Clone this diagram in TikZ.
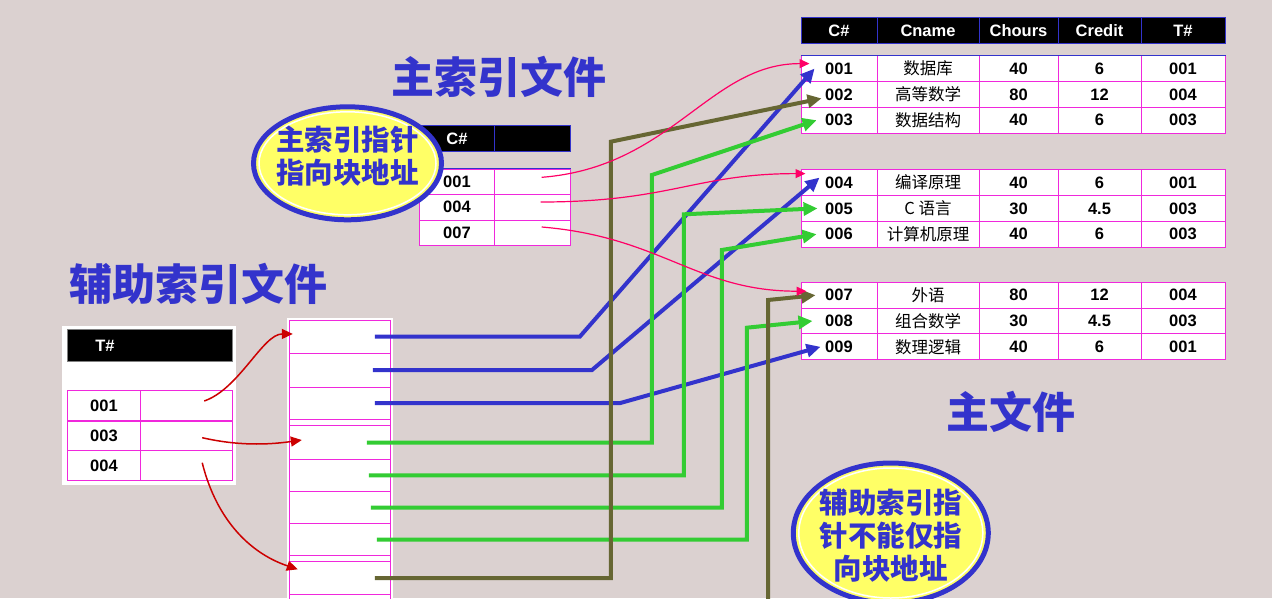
\documentclass[tikz,border=0pt]{standalone}
\usepackage{fontspec}
\setmainfont{Liberation Sans}
\newfontfamily\cjk{Noto Sans CJK SC}
\usepackage{tikz}
\usetikzlibrary{arrows.meta,positioning,shapes}
\definecolor{bgpaper}{RGB}{219,209,208}
\definecolor{ptrblue}{RGB}{51,51,204}
\definecolor{ptrgreen}{RGB}{51,204,51}
\definecolor{ptrolive}{RGB}{102,102,51}
\definecolor{linkpink}{RGB}{255,0,102}
\definecolor{linkred}{RGB}{204,0,0}
\definecolor{gridpink}{RGB}{240,40,220}
\definecolor{notefill}{RGB}{255,255,102}

\begin{document}
\begin{tikzpicture}[x=1pt, y=-1pt,
        cell/.style={draw=gridpink, fill=white, line width=1pt, inner sep=0pt, minimum height=25.8pt, font=\fontsize{16.5}{18}\selectfont\bfseries},
        headcell/.style={draw=ptrblue, fill=black, text=white, line width=1pt, inner sep=0pt, minimum height=26.4pt, font=\fontsize{16.5}{18}\selectfont\bfseries},
        slot/.style={draw=gridpink, fill=white, line width=1pt, inner sep=0pt, minimum width=101pt},
        bigtitle/.style={text=ptrblue, font=\cjk\bfseries\fontsize{43}{48}\selectfont},
        note/.style={ellipse, draw=ptrblue, line width=5pt, fill=notefill, inner sep=0pt},
        notetext/.style={text=ptrblue, align=center, font=\cjk\bfseries\fontsize{28.5}{33}\selectfont},
        thickptr/.style={line width=4pt, -{Triangle[length=14pt,width=13pt]}},
        pinklink/.style={linkpink, line width=1.2pt, -{Triangle[length=10pt,width=9pt]}},
        redlink/.style={linkred, line width=1.5pt, -{Triangle[length=11pt,width=10pt]}}]
        \useasboundingbox (0,0) rectangle (1272,598);
        \clip (0,0) rectangle (1272,598);
        \fill[bgpaper] (0,0) rectangle (1272,598);
        % Titres
        \node[bigtitle] (maintitle) at (499,77) {主索引文件};
        \node[bigtitle] (auxtitle) at (198,284) {辅助索引文件};
        \node[bigtitle] (filetitle) at (1011,412) {主文件};
        % Fichier principal
        \foreach \xpos/\w/\lbl [count=\i] in {839/76/C\#, 928/102/Cname, 1018.5/79/Chours, 1099.5/83/Credit, 1183/84/T\#}
            \node[headcell, minimum width=\w pt] (fh\i) at (\xpos,30.6) {\lbl};
        \foreach \ypos/\cno/\cname/\hrs/\cred/\tno in {68.6/001/数据库/40/6/001, 94.4/002/高等数学/80/12/004, 120.2/003/数据结构/40/6/003,
                182.6/004/编译原理/40/6/001, 208.4/005/C 语言/30/4.5/003, 234.2/006/计算机原理/40/6/003,
                295.2/007/外语/80/12/004, 321/008/组合数学/30/4.5/003, 346.8/009/数理逻辑/40/6/001} {
            \node[cell, minimum width=76pt] (c\cno) at (839,\ypos) {\cno};
            \node[cell, minimum width=102pt, font=\cjk\fontsize{16.5}{18}\selectfont] (n\cno) at (928,\ypos) {\cname};
            \node[cell, minimum width=79pt] (h\cno) at (1018.5,\ypos) {\hrs};
            \node[cell, minimum width=83pt] (r\cno) at (1099.5,\ypos) {\cred};
            \node[cell, minimum width=84pt] (t\cno) at (1183,\ypos) {\tno};
        }
        \draw[ptrblue, line width=1pt] (c001.north west) -- (t001.north east);
        % Index principal
        \node[headcell, minimum width=75.4pt] (ih1) at (457,138.5) {C\#};
        \node[headcell, minimum width=76pt] (ih2) at (532.7,138.5) {};
        \foreach \ypos/\key in {181.8/001, 207.3/004, 233/007} {
            \node[cell, minimum width=75.4pt, minimum height=25.5pt] (i\key) at (457,\ypos) {\key};
            \node[cell, minimum width=76pt, minimum height=25.5pt] (p\key) at (532.7,\ypos) {};
        }
        \draw[ptrblue, line width=1pt] (i001.north west) -- (p001.north east);
        % Index secondaire
        \fill[white] (62.3,326) rectangle (235.7,484.7);
        \node[fill=black, draw=gray, line width=1pt, minimum width=165.4pt, minimum height=31.7pt, inner sep=0pt] (auxhead) at (150,345.8) {};
        \node[text=white, font=\fontsize{16.5}{18}\selectfont\bfseries] (auxkey) at (105,346) {T\#};
        \foreach \ypos/\key in {405.7/001, 436/003, 465.7/004} {
            \node[cell, minimum width=72.6pt, minimum height=30pt] (a\key) at (104,\ypos) {\key};
            \node[cell, minimum width=91.7pt, minimum height=30pt] (q\key) at (186.2,\ypos) {};
        }
        % Blocs de pointeurs
        \fill[white] (287.3,318) rectangle (392.7,600);
        \foreach \top/\bot [count=\k] in {320/353.3, 353.3/387, 387/419.3, 425.7/459.3, 459.3/491.3, 491.3/523.7, 523.7/555.7, 561.7/594.3, 594.3/628}
            \node[slot, minimum height={(\bot-\top)*1pt}] (s\k) at (339.8,{(\top+\bot)/2}) {};
        \node[slot, minimum height=6.4pt] (band1) at (339.8,422.5) {};
        \node[slot, minimum height=6pt] (band2) at (339.8,558.7) {};
        % Pointeurs
        \draw[thickptr, ptrblue] ([xshift=35pt]s1.center) -- ++(205,0) -- ([xshift=14pt]c001.west);
        \draw[thickptr, ptrblue] ([xshift=33pt]s2.center) -- ++(219,0) -- ([xshift=19pt,yshift=5pt]c004.west);
        \draw[thickptr, ptrblue] ([xshift=35pt]s3.center) -- ++(245,0) -- ([xshift=20pt]c009.west);
        \draw[thickptr, ptrgreen] ([xshift=27pt]s4.center) -- ++(285,0) -- ++(0,-267.5) -- ([xshift=16pt]c003.west);
        \draw[thickptr, ptrgreen] ([xshift=29pt]s5.center) -- ++(315,0) -- ++(0,-261) -- ([xshift=17pt]c005.west);
        \draw[thickptr, ptrgreen] ([xshift=31pt]s6.center) -- ++(351,0) -- ++(0,-257.5) -- ([xshift=16pt]c006.west);
        \draw[thickptr, ptrgreen] ([xshift=37pt]s7.center) -- ++(370,0) -- ++(0,-212) -- ([xshift=12pt]c008.west);
        \draw[thickptr, ptrolive] ([xshift=35pt]s8.center) -- ++(236,0) -- ++(0,-436.3) -- ([xshift=21pt,yshift=-4pt]c002.west);
        \coordinate (olivefoot) at (768,610);
        \draw[thickptr, ptrolive] (olivefoot) -- ++(0,-310) -- ([xshift=15pt]c007.west);
        % Liens de l'index principal
        \draw[pinklink] ([xshift=9pt,yshift=4.5pt]p001.center) .. controls +(130,-10) and +(-100,0) .. ([xshift=9pt,yshift=5pt]c001.west);
        \draw[pinklink] ([xshift=8pt,yshift=5.3pt]p004.center) .. controls +(130,0) and +(-110,0) .. ([xshift=5pt,yshift=9pt]c004.west);
        \draw[pinklink] ([xshift=9pt,yshift=6pt]p007.center) .. controls +(120,10) and +(-110,0) .. ([xshift=6pt,yshift=4pt]c007.west);
        % Liens de l'index secondaire
        \draw[redlink] ([xshift=18pt,yshift=4.7pt]q001.center) .. controls +(35,-12) and +(-30,0) .. ([xshift=4pt,yshift=2.7pt]s1.west);
        \draw[redlink] ([xshift=16pt,yshift=-1.7pt]q003.center) .. controls +(35,8) and +(-35,5) .. ([xshift=13pt,yshift=2.5pt]s4.west);
        \draw[redlink] ([xshift=16pt,yshift=3pt]q004.center) .. controls +(15,60) and +(-45,-15) .. ([xshift=9pt,yshift=8.7pt]s8.west);
        % Bulles
        \node[note, minimum width=188pt, minimum height=113pt] (note1) at (347.5,163.3) {};
        \draw[white, line width=1.5pt] (note1.center) ellipse (88.5 and 51.5);
        \node[notetext] (note1txt) at (347.5,156) {主索引指针\\指向块地址};
        \node[note, minimum width=195pt, minimum height=140pt] (note2) at (890.8,533) {};
        \draw[white, line width=1.5pt] (note2.center) ellipse (92 and 65);
        \node[notetext] (note2txt) at (890.8,535.5) {辅助索引指\\针不能仅指\\向块地址};
    \end{tikzpicture}
\end{document}
